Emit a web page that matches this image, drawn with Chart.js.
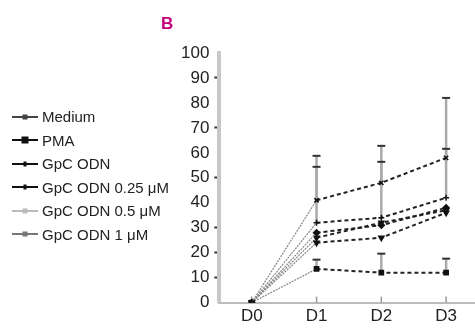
<!DOCTYPE html>
<html>
<head>
<meta charset="utf-8">
<script src="https://cdn.jsdelivr.net/npm/chart.js"></script>
<style>
  html, body { margin: 0; padding: 0; background: #fff; }
  #wrap { position: relative; width: 475px; height: 331px; overflow: hidden; }
  #chart { position: absolute; left: 0; top: 0; }
  #panel { position: absolute; left: 161px; top: 14px; font: bold 17px 'Liberation Sans', Arial, sans-serif; color: #c4007a; }
  #legend { position: absolute; left: 12px; top: 105px; font: 15px 'Liberation Sans', Arial, sans-serif; color: #222; }
  .item { height: 23.5px; display: flex; align-items: center; white-space: nowrap; }
  .swatch { position: relative; width: 26px; height: 2px; margin-right: 4px; }
  .mark { position: absolute; left: 50%; top: 50%; transform: translate(-50%, -50%); }
</style>
</head>
<body>
<div id="wrap">
  <canvas id="chart" width="484" height="331"></canvas>
  <div id="panel">B</div>
  <div id="legend"></div>
</div>
<script>
Chart.defaults.font.family = "'Liberation Sans', Arial, sans-serif";

const days = ["D0", "D1", "D2", "D3"];

const seriesNames = [
  "Medium",
  "PMA",
  "GpC ODN",
  "GpC ODN 0.25 \u03bcM",
  "GpC ODN 0.5 \u03bcM",
  "GpC ODN 1 \u03bcM"
];

// values (%)
const medium = [0, 41, 48, 58];
const pma = [0, 13.5, 12, 12];
const gpc = [0, 32, 34, 42];
const gpc025 = [0, 28, 31, 38];
const gpc05 = [0, 24, 26, 36];
const gpc1 = [0, 26, 32, 37];

// upper ends of the error bars (null = none)
const mediumErr = [null, 58.8, 62.8, 82];
const pmaErr = [null, 17.2, 19.6, 17.6];
const gpcErr = [null, 54.4, 56.4, 61.6];

const seriesValues = [medium, pma, gpc, gpc025, gpc05, gpc1];
const seriesErrors = [mediumErr, pmaErr, gpcErr, null, null, null];
const legendColors = ["#444", "#111", "#111", "#111", "#bbb", "#777"];
const pointStyles = ["crossRot", "rect", "cross", "rectRot", "triangle", "triangle"];

const datasets = seriesNames.map((name, i) => ({
  label: name,
  data: seriesValues[i],
  errors: seriesErrors[i],
  borderColor: "#222",
  borderWidth: 2,
  pointStyle: pointStyles[i],
  pointRotation: i >= 4 ? 180 : 0,
  pointRadius: 3,
  pointBorderWidth: 1.5,
  pointBackgroundColor: "#111",
  pointBorderColor: "#111",
  fill: false,
  tension: 0,
  segment: {
    borderColor: (ctx) => ctx.p0DataIndex === 0 ? "#888" : "#222",
    borderWidth: (ctx) => ctx.p0DataIndex === 0 ? 1.2 : 2,
    borderDash: (ctx) => ctx.p0DataIndex === 0 ? [2, 1] : [4, 3]
  }
}));

// error bars + upward x tick marks
const errorBars = {
  id: "errorBars",
  beforeDatasetsDraw(chart) {
    const { ctx, scales: { x, y } } = chart;
    ctx.save();
    chart.data.datasets.forEach((ds) => {
      if (!ds.errors) return;
      ds.errors.forEach((e, i) => {
        if (e === null) return;
        const px = x.getPixelForValue(i);
        const y0 = y.getPixelForValue(ds.data[i]);
        const y1 = y.getPixelForValue(e);
        ctx.strokeStyle = "#aaa";
        ctx.lineWidth = 2.5;
        ctx.beginPath();
        ctx.moveTo(px, y0);
        ctx.lineTo(px, y1);
        ctx.stroke();
        ctx.strokeStyle = "#333";
        ctx.lineWidth = 2;
        ctx.beginPath();
        ctx.moveTo(px - 4, y1);
        ctx.lineTo(px + 4, y1);
        ctx.stroke();
      });
    });
    ctx.strokeStyle = "#999";
    ctx.lineWidth = 1.5;
    days.forEach((d, i) => {
      const px = x.getPixelForValue(i);
      ctx.beginPath();
      ctx.moveTo(px, y.bottom);
      ctx.lineTo(px, y.bottom - 6);
      ctx.stroke();
    });
    ctx.restore();
  }
};

const chart = new Chart(document.getElementById("chart"), {
  type: "line",
  data: { labels: days, datasets: datasets },
  options: {
    responsive: false,
    animation: false,
    devicePixelRatio: 1,
    layout: { padding: { left: 176, top: 53, right: 0, bottom: 0 } },
    plugins: { legend: { display: false }, tooltip: { enabled: false } },
    scales: {
      x: {
        offset: true,
        grid: { drawOnChartArea: false, drawTicks: false },
        border: { color: "#bbb", width: 2 },
        ticks: { color: "#222", font: { size: 17 }, padding: 4 }
      },
      y: {
        min: 0,
        max: 100,
        ticks: { stepSize: 10, color: "#222", font: { size: 17 }, padding: 5 },
        grid: {
          drawOnChartArea: false,
          tickLength: 5,
          tickWidth: 2,
          tickColor: (ctx) => [90, 70, 50, 30, 20, 10].includes(ctx.tick && ctx.tick.value) ? "#333" : "rgba(0,0,0,0)"
        },
        border: { color: "#c8c8c8", width: 4 }
      }
    }
  },
  plugins: [errorBars]
});

// html legend: line with a small marker
const legendEl = document.getElementById("legend");
seriesNames.forEach((name, i) => {
  const item = document.createElement("div");
  item.className = "item";
  const sw = document.createElement("span");
  sw.className = "swatch";
  sw.style.background = legendColors[i];
  const mk = document.createElement("span");
  mk.className = "mark";
  const size = i === 1 ? 7 : 5;
  mk.style.width = (i === 2 || i === 3 ? 3 : size) + "px";
  mk.style.height = size + "px";
  mk.style.background = legendColors[i];
  sw.appendChild(mk);
  const txt = document.createElement("span");
  txt.textContent = name;
  item.appendChild(sw);
  item.appendChild(txt);
  legendEl.appendChild(item);
});
</script>
</body>
</html>
